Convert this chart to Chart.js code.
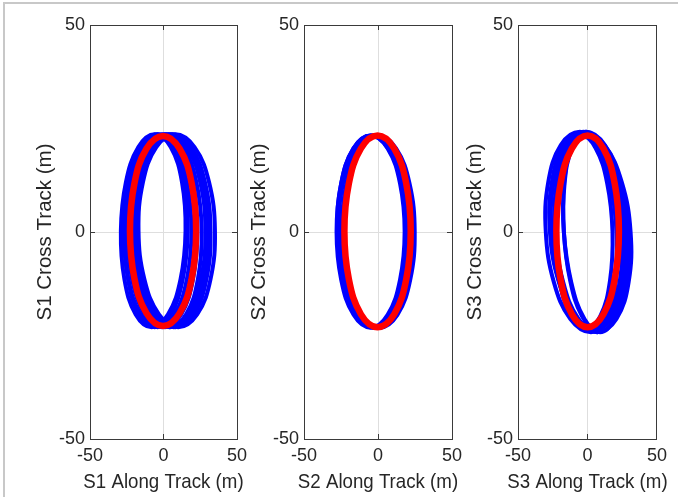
<!DOCTYPE html>
<html>
<head>
<meta charset="utf-8">
<script src="https://cdn.jsdelivr.net/npm/chart.js@4.4.1/dist/chart.umd.min.js"></script>
<style>
  html, body { margin: 0; padding: 0; background: #fff; }
  #wrap { position: relative; width: 678px; height: 497px; overflow: hidden; background: #fff; }
  #frame { position: absolute; left: 3px; top: 2px; right: -10px; bottom: -10px;
           border-top: 2px solid #c8c8c8; border-left: 2px solid #c8c8c8; }
  canvas { position: absolute; left: 0; top: 0; }
</style>
</head>
<body>
<div id="wrap">
  <div id="frame"></div>
  <canvas id="p1" width="678" height="497"></canvas>
  <canvas id="p2" width="678" height="497"></canvas>
  <canvas id="p3" width="678" height="497"></canvas>
</div>
<script>
// Tick values shared by every axis (metres)
const axisTicks = [-50, 0, 50];

const alongTitles = ['S1 Along Track (m)', 'S2 Along Track (m)', 'S3 Along Track (m)'];
const crossTitles = ['S1 Cross Track (m)', 'S2 Cross Track (m)', 'S3 Cross Track (m)'];

// ---- S1: reference relative orbit (red) and simulated orbits (blue) ----
const s1RefX = [-0.3, 11.0, 19.2, 22.2, 19.2, 11.0, -0.3, -11.6, -19.8, -22.8, -19.8, -11.6];
const s1RefY = [23.2, 20.1, 11.7, 0.3, -11.2, -19.6, -22.7, -19.6, -11.2, 0.3, 11.7, 20.1];
const s1RunY = [23.6, 20.5, 12.0, 0.3, -11.4, -19.9, -23.0, -19.9, -11.4, 0.3, 12.0, 20.5];
const s1RunX = [
  [-6, 4.9, 12.6, 15, 11.6, 3.1, -8, -18.9, -26.6, -29, -25.6, -17.1],
  [-4, 7.5, 15.9, 19, 15.9, 7.5, -4, -15.5, -23.9, -27, -23.9, -15.5],
  [-1, 10.8, 19.4, 22.5, 19.4, 10.8, -1, -12.8, -21.4, -24.5, -21.4, -12.8],
  [2, 13.6, 22.4, 26, 23.4, 15.4, 4, -7.6, -16.4, -20, -17.4, -9.4],
  [5, 17.1, 26.3, 30, 27.3, 18.9, 7, -5.1, -14.3, -18, -15.3, -6.9],
  [8, 21.1, 31, 35, 32, 22.9, 10, -3.1, -13, -17, -14, -4.9],
  [1, 12, 20.1, 23, 20.1, 12, 1, -10, -18.1, -21, -18.1, -10],
  [-4, 6.6, 14.1, 16.5, 13.1, 4.9, -6, -16.6, -24.1, -26.5, -23.1, -14.9],
  [6, 18.6, 28.2, 32, 29.2, 20.4, 8, -4.6, -14.2, -18, -15.2, -6.4],
  [3.5, 15.8, 25, 28.5, 25.5, 16.7, 4.5, -7.8, -17, -20.5, -17.5, -8.7]
];

// ---- S2 ----
const s2RefX = [-0.3, 10.9, 19.1, 22.1, 19.1, 10.9, -0.3, -11.5, -19.7, -22.7, -19.7, -11.5];
const s2RefY = [23.3, 20.2, 11.7, 0.2, -11.4, -19.9, -23.0, -19.9, -11.4, 0.2, 11.7, 20.2];
const s2RunY = [23.3, 20.2, 11.7, 0.1, -11.5, -20.0, -23.1, -20.0, -11.5, 0.1, 11.7, 20.2];
const s2RunX = [
  [-5, 6.5, 14.9, 18, 14.9, 6.5, -5, -16.5, -24.9, -28, -24.9, -16.5],
  [-5, 6.9, 15.9, 19.5, 16.9, 8.6, -3, -14.9, -23.9, -27.5, -24.9, -16.6],
  [-4, 8.1, 17.3, 21, 18.3, 9.9, -2, -14.1, -23.3, -27, -24.3, -15.9],
  [-3, 9.4, 18.7, 22.5, 19.7, 11.1, -1, -13.4, -22.7, -26.5, -23.7, -15.1],
  [0, 12.2, 21.3, 24.8, 21.8, 13.1, 1, -11.2, -20.3, -23.8, -20.8, -12.1],
  [-1.5, 10, 18.4, 21.5, 18.4, 10, -1.5, -13, -21.4, -24.5, -21.4, -13]
];

// ---- S3 ----
const s3RefX = [0.1, 11.4, 19.6, 22.6, 19.6, 11.4, 0.1, -11.2, -19.4, -22.4, -19.4, -11.2];
const s3RefY = [23.3, 20.2, 11.7, 0.2, -11.4, -19.9, -23.0, -19.9, -11.4, 0.2, 11.7, 20.2];
const s3TallY = [24.2, 21.0, 12.1, 0, -12.1, -21.0, -24.2, -21.0, -12.1, 0, 12.1, 21.0];
const s3TallX = [
  [-5.5, 9.3, 21.2, 27, 25.2, 16.2, 2.5, -12.3, -24.2, -30, -28.2, -19.2],
  [-3, 12.2, 24.6, 31, 29.6, 20.8, 7, -8.2, -20.6, -27, -25.6, -16.8],
  [-1, 12.5, 23.5, 29, 27.5, 19.5, 7, -6.5, -17.5, -23, -21.5, -13.5],
  [-1, 10.2, 19.7, 25, 24.7, 18.8, 9, -2.2, -11.7, -17, -16.7, -10.8]
];
const s3ShortY = [23.4, 20.3, 11.7, 0, -11.7, -20.3, -23.4, -20.3, -11.7, 0, 11.7, 20.3];
const s3ShortX = [
  [-4, 9.5, 20.5, 26, 24.5, 16.5, 4, -9.5, -20.5, -26, -24.5, -16.5],
  [-2, 10.4, 20.3, 25, 23.3, 15.6, 4, -8.4, -18.3, -23, -21.3, -13.6],
  [-4, 7.4, 16.6, 21, 19.6, 12.6, 2, -9.4, -18.6, -23, -21.6, -14.6],
  [-2, 8.0, 16.5, 21, 20.5, 15.0, 6, -4.0, -12.5, -17, -16.5, -11.0],
  [-5, 5.8, 14.2, 18, 16.2, 9.2, -1, -11.8, -20.2, -24, -22.2, -15.2],
  [-3.5, 10.9, 22.6, 28.5, 27.1, 18.7, 5.5, -8.9, -20.6, -26.5, -25.1, -16.7]
];

// ---- styling / layout ----
const FONT = "'Liberation Sans', Arial, Helvetica, sans-serif";
const TEXT = '#262626';
const AXIS = '#3a3a3a';
const GRID = '#dedede';
const BLUE = '#0000ff';
const RED = '#ff0000';
const CLEAR = 'rgba(0,0,0,0)';
const TICK_SIZE = 18;
const TITLE_SIZE = 20.5;     // cross-track (vertical) titles
const CAPTION_SIZE = 18.7;   // along-track (horizontal) titles
const CAPTION_STRETCH = 1.08;

// plot box of each panel in page pixels
const boxes = [
  { left: 90,  right: 237, titlePad: 3 },
  { left: 304, right: 452, titlePad: 3 },
  { left: 518, right: 667, titlePad: 5 }
];
const PAGE_W = 678, TOP = 25, X_AXIS_H = 58, Y_AXIS_W = 60;
const X_TITLE_GAP = 2;

// Closed ring: the sequence wraps one point before and one point after the
// full loop, so every drawn arc has real neighbours on both sides and the
// spline stays smooth through the seam. The two outer arcs are not drawn.
function ring(xs, ys) {
  const n = xs.length, pts = [];
  for (let i = -1; i <= n + 1; i++) {
    const k = (i + n) % n;
    pts.push({ x: xs[k], y: ys[k] });
  }
  return pts;
}

function loopDataset(xs, ys, color, width, order) {
  const data = ring(xs, ys);
  const last = data.length - 1;
  return {
    data,
    order,
    borderColor: color,
    borderWidth: width,
    pointRadius: 0,
    tension: 0.4,
    fill: false,
    borderJoinStyle: 'round',
    segment: {
      borderColor: c => (c.p0DataIndex === 0 || c.p1DataIndex === last) ? CLEAR : color
    }
  };
}

function tickSetter(scale) {
  scale.ticks = axisTicks.map(v => ({ value: v }));
}

// Along-track caption under the x axis, centred on the plot box. Drawn here
// rather than as the scale title so it is not squeezed to the box width.
function alongCaption(text) {
  return {
    id: 'alongCaption',
    afterDraw(chart) {
      const xs = chart.scales.x;
      const ctx = chart.ctx;
      const lh = 20.5 * 1.2;
      ctx.save();
      ctx.translate((xs.left + xs.right) / 2, xs.bottom - X_TITLE_GAP - lh / 2);
      ctx.scale(1, CAPTION_STRETCH);
      ctx.font = CAPTION_SIZE + 'px ' + FONT;
      ctx.fillStyle = TEXT;
      ctx.textAlign = 'center';
      ctx.textBaseline = 'middle';
      ctx.fillText(text, 0, 0);
      ctx.restore();
    }
  };
}

function buildPanel(id, idx, refX, refY, runs) {
  const box = boxes[idx];
  const datasets = [loopDataset(refX, refY, RED, 6.5, 0)];
  runs.forEach(r => datasets.push(loopDataset(r.xs, r.ys, BLUE, 4, 1)));

  const gridMain = {
    display: true,
    drawOnChartArea: true,
    drawTicks: true,
    tickLength: -5,
    tickColor: AXIS,
    lineWidth: 1,
    color: c => (c.tick && c.tick.value === 0) ? GRID : CLEAR
  };
  const gridEdge = {
    display: true,
    drawOnChartArea: false,
    drawTicks: true,
    tickLength: -5,
    tickColor: AXIS,
    color: CLEAR
  };
  const border = { display: true, color: AXIS, width: 1 };
  const tickFont = { family: FONT, size: TICK_SIZE };
  const titleFont = { family: FONT, size: TITLE_SIZE };

  return new Chart(document.getElementById(id), {
    type: 'line',
    data: { datasets },
    plugins: [alongCaption(alongTitles[idx])],
    options: {
      responsive: false,
      animation: false,
      devicePixelRatio: 1,
      layout: {
        padding: { left: box.left - Y_AXIS_W, right: PAGE_W - box.right, top: TOP, bottom: 0 }
      },
      plugins: { legend: { display: false }, tooltip: { enabled: false } },
      scales: {
        x: {
          type: 'linear', position: 'bottom',
          min: axisTicks[0], max: axisTicks[axisTicks.length - 1],
          afterBuildTicks: tickSetter,
          ticks: { color: TEXT, font: tickFont, padding: 11, maxRotation: 0 },
          grid: gridMain, border,
          title: { display: false },
          afterFit: s => { s.height = X_AXIS_H; }
        },
        y: {
          type: 'linear', position: 'left',
          min: axisTicks[0], max: axisTicks[axisTicks.length - 1],
          afterBuildTicks: tickSetter,
          ticks: { color: TEXT, font: tickFont, padding: 10 },
          grid: gridMain, border,
          title: { display: true, text: crossTitles[idx], color: TEXT, font: titleFont,
                   padding: { top: box.titlePad, bottom: 0 } },
          afterFit: s => { s.width = Y_AXIS_W; }
        },
        xTop: {
          type: 'linear', position: 'top',
          min: axisTicks[0], max: axisTicks[axisTicks.length - 1],
          afterBuildTicks: tickSetter,
          ticks: { display: false },
          grid: gridEdge, border,
          afterFit: s => { s.height = 0; }
        },
        yRight: {
          type: 'linear', position: 'right',
          min: axisTicks[0], max: axisTicks[axisTicks.length - 1],
          afterBuildTicks: tickSetter,
          ticks: { display: false },
          grid: gridEdge, border,
          afterFit: s => { s.width = 0; }
        }
      }
    }
  });
}

const wrapRuns = (xsList, ys) => xsList.map(xs => ({ xs, ys }));

buildPanel('p1', 0, s1RefX, s1RefY, wrapRuns(s1RunX, s1RunY));
buildPanel('p2', 1, s2RefX, s2RefY, wrapRuns(s2RunX, s2RunY));
buildPanel('p3', 2, s3RefX, s3RefY,
  wrapRuns(s3TallX, s3TallY).concat(wrapRuns(s3ShortX, s3ShortY)));
</script>
</body>
</html>
